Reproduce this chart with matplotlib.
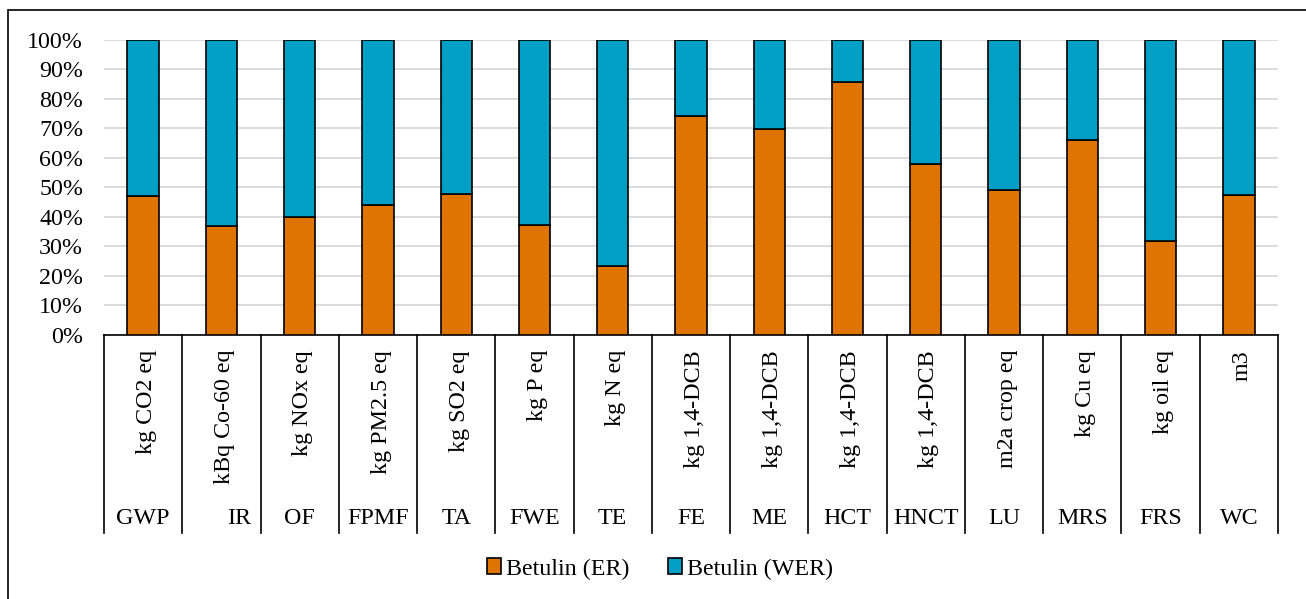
import numpy as np
import matplotlib.pyplot as plt
from matplotlib.patches import Rectangle, Patch
from matplotlib.ticker import FuncFormatter

plt.rcParams["font.family"] = ["Liberation Serif", "DejaVu Serif"]

categories = ["GWP", "IR", "OF", "FPMF", "TA", "FWE", "TE", "FE", "ME",
              "HCT", "HNCT", "LU", "MRS", "FRS", "WC"]
units = ["kg CO2 eq", "kBq Co-60 eq", "kg NOx eq", "kg PM2.5 eq", "kg SO2 eq",
         "kg P eq", "kg N eq", "kg 1,4-DCB", "kg 1,4-DCB", "kg 1,4-DCB",
         "kg 1,4-DCB", "m2a crop eq", "kg Cu eq", "kg oil eq", "m3"]
# share of Betulin (ER), in percent; Betulin (WER) is the rest up to 100 %
er_share = [47.1, 36.7, 40.0, 44.0, 47.7, 37.3, 23.2, 74.1, 69.8,
            85.8, 58.0, 49.0, 66.0, 31.7, 47.5]
wer_share = [100 - v for v in er_share]

orange = "#DF7500"
blue = "#009FC6"
fs = 17.3


def main():
    W, H = 1306, 599
    fig = plt.figure(figsize=(W / 100, H / 100), dpi=100)

    # outer chart border (right and bottom run off the picture)
    fig.patches.append(Rectangle((8 / W, -0.05), 1.1, 1 - 9.5 / H + 0.05,
                                 transform=fig.transFigure, fill=False,
                                 edgecolor="black", linewidth=1.2))

    x0, x1 = 104, 1278
    y_top, y_bot = 39.7, 334.7
    ax = fig.add_axes([x0 / W, 1 - y_bot / H, (x1 - x0) / W, (y_bot - y_top) / H])

    x = np.arange(len(categories))
    er = np.array(er_share) / 100
    wer = np.array(wer_share) / 100
    ax.bar(x, er, width=0.4, color=orange, edgecolor="black", linewidth=1.2, zorder=3)
    ax.bar(x, wer, width=0.4, bottom=er, color=blue, edgecolor="black",
           linewidth=1.2, zorder=3)

    ax.set_xlim(-0.5, len(categories) - 0.5)
    ax.set_ylim(0, 1)
    ax.set_yticks(np.arange(0, 1.01, 0.1))
    ax.yaxis.set_major_formatter(FuncFormatter(lambda v, p: f"{v * 100:.0f}%"))
    ax.tick_params(axis="y", length=0, pad=15, labelsize=fs)
    ax.set_xticks([])
    ax.grid(axis="y", color="#d9d9d9", linewidth=1.3, zorder=0)
    for s in ["top", "right", "left"]:
        ax.spines[s].set_visible(False)
    ax.spines["bottom"].set_linewidth(1.2)

    # two-level category axis
    h = y_bot - y_top
    sep_bottom = -(533 - y_bot) / h
    unit_top = -(350 - y_bot) / h
    name_y = -(518 - y_bot) / h
    tr = ax.get_xaxis_transform()
    for i in range(len(categories) + 1):
        ax.plot([i - 0.5, i - 0.5], [0, sep_bottom], color="black",
                linewidth=1.2, transform=tr, clip_on=False)
    for i, (u, c) in enumerate(zip(units, categories)):
        ax.text(i + 0.04, unit_top, u, rotation=90, ha="center", va="top",
                fontsize=fs, transform=tr)
        dx = 0.23 if c == "IR" else 0
        ax.text(i + dx, name_y, c, ha="center", va="center", fontsize=fs,
                transform=tr)

    handles = [Patch(facecolor=orange, edgecolor="black", linewidth=1.2),
               Patch(facecolor=blue, edgecolor="black", linewidth=1.2)]
    fig.legend(handles, ["Betulin (ER)", "Betulin (WER)"], loc="center",
               bbox_to_anchor=(660 / W, 1 - 569 / H), ncol=2, frameon=False,
               fontsize=fs, handlelength=0.6, handleheight=0.6,
               handletextpad=0.2, columnspacing=1.6)

    fig.savefig("out.png", dpi=100)


if __name__ == "__main__":
    main()
